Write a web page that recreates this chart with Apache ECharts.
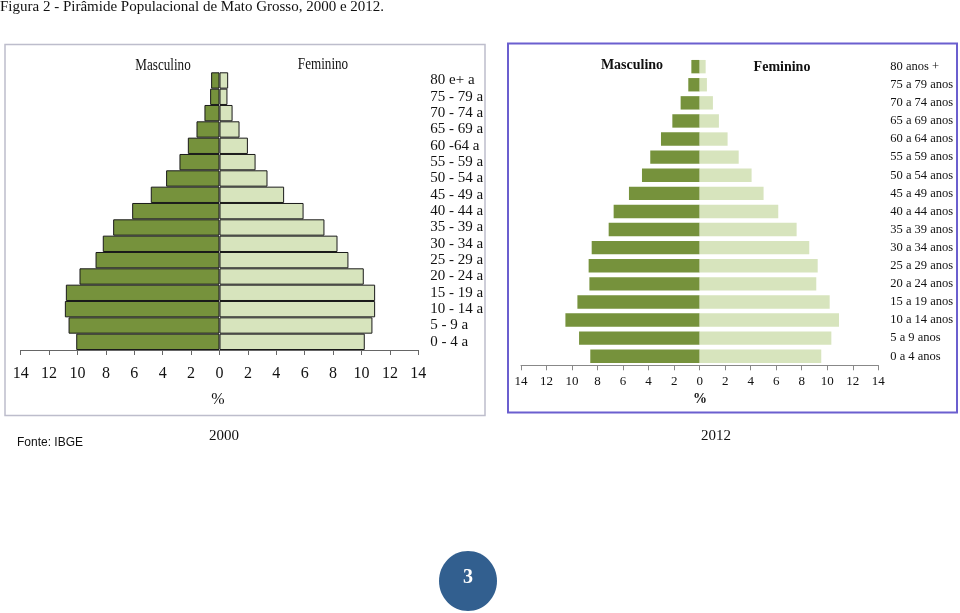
<!DOCTYPE html>
<html><head><meta charset="utf-8">
<script src="https://cdn.jsdelivr.net/npm/echarts@6/dist/echarts.min.js"></script>
<style>html,body{margin:0;padding:0;background:#fff}#c{width:960px;height:613px}</style>
</head><body><div id="c"></div>
<script>
// Categories, top (oldest) to bottom (youngest)
const cats2000 = ['80 e+ a','75 - 79 a','70 - 74 a','65 - 69 a','60 -64 a','55 - 59 a','50 - 54 a','45 - 49 a','40 - 44 a','35 - 39 a','30 - 34 a','25 - 29 a','20 - 24 a','15 - 19 a','10 - 14 a','5 - 9 a','0 - 4 a'];
const cats2012 = ['80 anos +','75 a 79 anos','70 a 74 anos','65 a 69 anos','60 a 64 anos','55 a 59 anos','50 a 54 anos','45 a 49 anos','40 a 44 anos','35 a 39 anos','30 a 34 anos','25 a 29 anos','20 a 24 anos','15 a 19 anos','10 a 14 anos','5 a 9 anos','0 a 4 anos'];
// Percent of population
const male2000   = [0.59,0.66,1.06,1.62,2.23,2.82,3.76,4.84,6.15,7.49,8.22,8.73,9.86,10.82,10.89,10.63,10.09];
const female2000 = [0.61,0.56,0.92,1.41,2.00,2.54,3.38,4.55,5.92,7.39,8.31,9.08,10.16,10.96,10.96,10.77,10.23];
const male2012   = [0.65,0.89,1.49,2.14,3.03,3.87,4.52,5.54,6.74,7.13,8.46,8.70,8.64,9.58,10.52,9.45,8.57];
const female2012 = [0.47,0.57,1.04,1.51,2.19,3.06,4.07,5.01,6.16,7.60,8.59,9.25,9.14,10.19,10.92,10.32,9.53];
const xTicks = {min:-14, max:14, interval:2};

const DARK = '#76923c', LIGHT = '#d7e4bd';
const serif = '"Liberation Serif","Times New Roman",serif';
const chart = echarts.init(document.getElementById('c'));
const neg = a => a.map(v => -v);
const fmt = v => String(Math.abs(v));

chart.setOption({
  animation:false,
  grid:[
    {left:20.7, top:72.3, width:397.6, height:277.7},
    {left:521, top:57.6, width:357.3, height:307.7}
  ],
  xAxis:[
    {gridIndex:0, type:'value', min:xTicks.min, max:xTicks.max, interval:xTicks.interval,
     splitLine:{show:false},
     axisLine:{show:true, onZero:false, lineStyle:{color:'#666', width:1}},
     axisTick:{show:true, length:5, lineStyle:{color:'#666'}},
     axisLabel:{formatter:fmt, margin:16, fontFamily:serif, fontSize:16, color:'#111'}},
    {gridIndex:1, type:'value', min:xTicks.min, max:xTicks.max, interval:xTicks.interval,
     splitLine:{show:false},
     axisLine:{show:true, onZero:false, lineStyle:{color:'#888', width:1}},
     axisTick:{show:true, length:5, lineStyle:{color:'#888'}},
     axisLabel:{formatter:fmt, margin:10, fontFamily:serif, fontSize:13, color:'#111'}}
  ],
  yAxis:[
    {gridIndex:0, type:'category', data:cats2000, inverse:true, position:'right',
     axisLine:{show:false}, axisTick:{show:false},
     axisLabel:{interval:0, margin:12, fontFamily:serif, fontSize:15, color:'#111', align:'left'}},
    {gridIndex:1, type:'category', data:cats2012, inverse:true, position:'right',
     axisLine:{show:false}, axisTick:{show:false},
     axisLabel:{interval:0, margin:12, fontFamily:serif, fontSize:12.5, color:'#111', align:'left'}}
  ],
  series:[
    {type:'bar', name:'Masculino 2000', xAxisIndex:0, yAxisIndex:0, stack:'a', data:neg(male2000),
     barCategoryGap:'0%', itemStyle:{color:DARK, borderColor:'#1a1a1a', borderWidth:1}},
    {type:'bar', name:'Feminino 2000', xAxisIndex:0, yAxisIndex:0, stack:'a', data:female2000,
     barCategoryGap:'0%', itemStyle:{color:LIGHT, borderColor:'#1a1a1a', borderWidth:1}},
    {type:'bar', name:'Masculino 2012', xAxisIndex:1, yAxisIndex:1, stack:'b', data:neg(male2012),
     barCategoryGap:'26%', itemStyle:{color:DARK}},
    {type:'bar', name:'Feminino 2012', xAxisIndex:1, yAxisIndex:1, stack:'b', data:female2012,
     barCategoryGap:'26%', itemStyle:{color:LIGHT}}
  ],
  graphic:[
    {type:'text', x:0, y:7, style:{text:'Figura 2 - Pirâmide Populacional de Mato Grosso, 2000 e 2012.', font:'15px '+serif, fill:'#111', textVerticalAlign:'middle'}},
    {type:'rect', shape:{x:5, y:44.5, width:480, height:371}, style:{fill:'none', stroke:'#bdbdcc', lineWidth:1.5}},
    {type:'rect', shape:{x:508, y:43.5, width:449, height:369}, style:{fill:'none', stroke:'#6b5fcf', lineWidth:2}},
    {type:'text', x:163, y:66, scaleX:0.82, style:{text:'Masculino', font:'16px '+serif, fill:'#111', textAlign:'center', textVerticalAlign:'middle'}},
    {type:'text', x:323, y:65, scaleX:0.82, style:{text:'Feminino', font:'16px '+serif, fill:'#111', textAlign:'center', textVerticalAlign:'middle'}},
    {type:'text', x:218, y:400, style:{text:'%', font:'16px '+serif, fill:'#111', textAlign:'center', textVerticalAlign:'middle'}},
    {type:'text', x:632, y:65, style:{text:'Masculino', font:'bold 14px '+serif, fill:'#111', textAlign:'center', textVerticalAlign:'middle'}},
    {type:'text', x:782, y:67, style:{text:'Feminino', font:'bold 14px '+serif, fill:'#111', textAlign:'center', textVerticalAlign:'middle'}},
    {type:'text', x:700, y:399, style:{text:'%', font:'bold 14px '+serif, fill:'#111', textAlign:'center', textVerticalAlign:'middle'}},
    {type:'text', x:224, y:436, style:{text:'2000', font:'15px '+serif, fill:'#111', textAlign:'center', textVerticalAlign:'middle'}},
    {type:'text', x:716, y:436, style:{text:'2012', font:'15px '+serif, fill:'#111', textAlign:'center', textVerticalAlign:'middle'}},
    {type:'text', x:17, y:443, style:{text:'Fonte: IBGE', font:'12px "Liberation Sans",Arial,sans-serif', fill:'#111', textVerticalAlign:'middle'}},
    {type:'ellipse', shape:{cx:468, cy:581, rx:29, ry:30}, style:{fill:'#325f8f'}},
    {type:'text', x:468, y:578, style:{text:'3', font:'bold 20px '+serif, fill:'#fff', textAlign:'center', textVerticalAlign:'middle'}}
  ]
});
</script>
</body></html>
